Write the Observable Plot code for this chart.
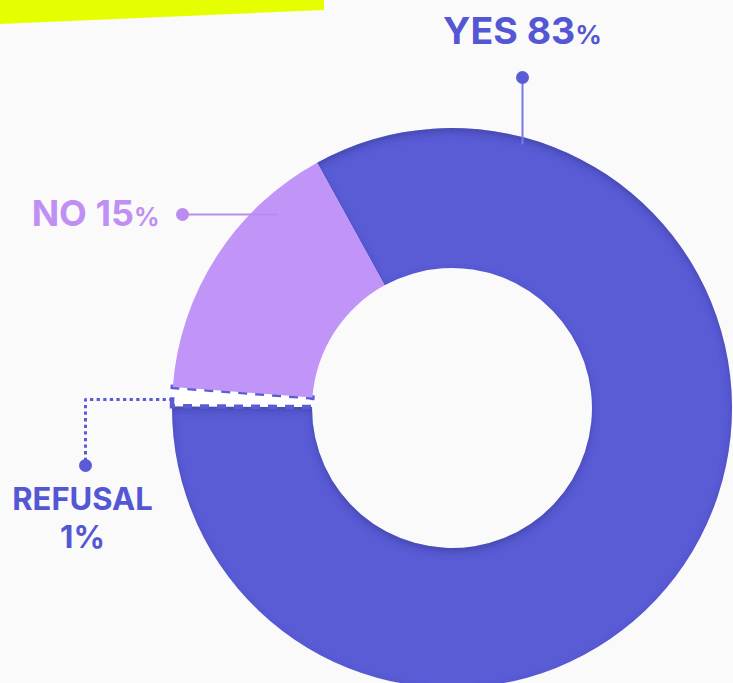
<!DOCTYPE html>
<html>
<head>
<meta charset="utf-8">
<script src="https://cdn.jsdelivr.net/npm/d3@7"></script>
<script src="https://cdn.jsdelivr.net/npm/@observablehq/plot@0.6"></script>
<style>
  html, body { margin: 0; padding: 0; background: #fafafa; }
  #chart { width: 733px; height: 683px; overflow: hidden; }
</style>
</head>
<body>
<div id="chart"></div>
<script>
// ---- data ----
const categories = ["YES", "REFUSAL", "NO"];          // clockwise drawing order
const shares = [83.1, 1.1, 15.8];                      // slice sizes as drawn
const pctLabels = ["83%", "1%", "15%"];                // printed percentages
const colors = ["#5a5cd6", "#ffffff", "#c194f7"];
const textColors = ["#5457d4", "#5457d4", "#bf8ff3"];

// ---- layout ----
const W = 733, H = 683;
const CX = 452, CY = 408, R_OUT = 280, R_IN = 140;
const START_DEG = -28.8;   // YES slice begins here (clockwise from 12 o'clock)

const table = categories.map((c, i) => ({category: c, share: shares[i], pct: pctLabels[i], color: colors[i], textColor: textColors[i]}));
const pie = d3.pie().sort(null).value(d => d.share)
  .startAngle(START_DEG * Math.PI / 180)
  .endAngle(START_DEG * Math.PI / 180 + 2 * Math.PI);
const arcs = pie(table);

// label/leader layout
const labelLayout = {
  YES:     {tx: 522, ty: 43, anchor: "middle", size: 37.5, lh: 1.2, leader: [[522, 77], [522, 144]], dot: [522, 77], dash: null, stroke: "#7679e8"},
  NO:      {tx: 159, ty: 225, anchor: "end", size: 36, lh: 1.2, leader: [[182, 214], [278, 214]], dot: [182, 214], dash: null, stroke: "#b98bef"},
  REFUSAL: {tx: 82, ty: 547, anchor: "middle", size: 31, lh: 1.2, leader: [[172, 399], [85, 399], [85, 465]], dot: [85, 465], dash: "3.3,3.3", stroke: "#5a5cd6"}
};

function donut(index, scales) {
  const x = scales.x, y = scales.y;
  const cx = x(CX), cy = y(CY);
  const rOut = x(CX + R_OUT) - cx, rIn = x(CX + R_IN) - cx;
  const g = d3.create("svg:g");
  const defs = g.append("defs");
  const f = defs.append("filter").attr("id", "inset").attr("x", "-20%").attr("y", "-20%").attr("width", "140%").attr("height", "140%");
  f.append("feFlood").attr("flood-color", "#1e1f6e").attr("flood-opacity", 0.45).attr("result", "flood");
  f.append("feComposite").attr("in", "flood").attr("in2", "SourceAlpha").attr("operator", "out").attr("result", "outside");
  f.append("feOffset").attr("in", "outside").attr("dx", 0).attr("dy", 4).attr("result", "off");
  f.append("feGaussianBlur").attr("in", "off").attr("stdDeviation", 3.5).attr("result", "blur");
  f.append("feComposite").attr("in", "blur").attr("in2", "SourceAlpha").attr("operator", "in").attr("result", "shadow");
  const m = f.append("feMerge");
  m.append("feMergeNode").attr("in", "SourceGraphic");
  m.append("feMergeNode").attr("in", "shadow");

  // decorative yellow banner
  g.append("polygon")
    .attr("points", [[x(0), y(0)], [x(324), y(0)], [x(324), y(10)], [x(0), y(24)]].map(p => p.join(",")).join(" "))
    .attr("fill", "#e6ff00");

  const arc = d3.arc().innerRadius(rIn).outerRadius(rOut);
  const slices = g.append("g").attr("transform", `translate(${cx},${cy})`);
  arcs.forEach(a => {
    const p = slices.append("path").attr("d", arc(a)).attr("fill", a.data.color);
    if (a.data.category === "YES") p.attr("filter", "url(#inset)");
    if (a.data.category === "REFUSAL") {
      p.attr("stroke", "#5a5cd6").attr("stroke-width", 4.5).attr("stroke-dasharray", "9,8");
    }
  });
  return g.node();
}

const leaderRows = [], dotRows = [], textRows = [];
table.forEach(d => {
  const L = labelLayout[d.category];
  L.leader.forEach(([px, py]) => leaderRows.push({category: d.category, x: px, y: py, stroke: L.stroke, dash: L.dash}));
  dotRows.push({category: d.category, x: L.dot[0], y: L.dot[1], fill: d.category === "NO" ? "#bb8cf0" : "#5a5cd6"});
  textRows.push({category: d.category, x: L.tx, y: L.ty, anchor: L.anchor, size: L.size, lh: L.lh, color: d.textColor,
    label: d.category === "REFUSAL" ? `${d.category}\n${d.pct}` : `${d.category} ${d.pct}`});
});

const marks = [donut];
["YES", "NO", "REFUSAL"].forEach(c => {
  const rows = leaderRows.filter(r => r.category === c);
  marks.push(Plot.line(rows, {x: "x", y: "y", stroke: rows[0].stroke, strokeWidth: c === "REFUSAL" ? 3 : 2,
    strokeDasharray: rows[0].dash || undefined, strokeLinecap: "butt", curve: "linear"}));
});
marks.push(Plot.dot(dotRows, {x: "x", y: "y", r: 6.5, fill: "fill", stroke: null}));
textRows.forEach(t => {
  marks.push(Plot.text([t], {x: "x", y: "y", text: "label", textAnchor: t.anchor, lineAnchor: "bottom",
    fontSize: t.size, fontWeight: 700, fill: t.color, lineHeight: t.lh}));
});

const chart = Plot.plot({
  width: W, height: H,
  margin: 0,
  x: {domain: [0, W], range: [0, W], axis: null},
  y: {domain: [0, H], range: [0, H], axis: null},
  style: {background: "#fafafa", fontFamily: "Inter, 'Noto Sans', sans-serif", overflow: "hidden"},
  marks
});

// render trailing "%" in a smaller size for the YES / NO labels, as in the reference
d3.select(chart).selectAll("text").each(function() {
  const s = this.textContent;
  if (/^(YES|NO) \d+%$/.test(s)) {
    this.textContent = s.slice(0, -1);
    d3.select(this).append("tspan").attr("font-size", "0.7em").text("%");
  }
});

document.getElementById("chart").appendChild(chart);
</script>
</body>
</html>
